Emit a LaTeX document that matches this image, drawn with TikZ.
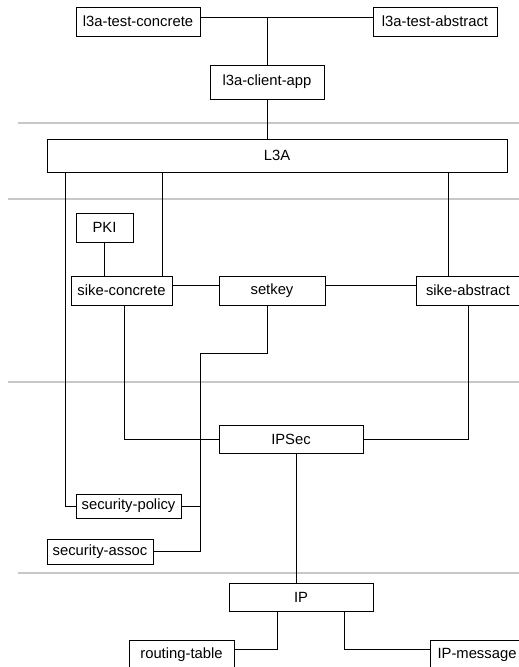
\documentclass[tikz,border=0pt]{standalone}
\usepackage{fontspec}
\setmainfont{Liberation Sans}
\usepackage{xcolor}
\usepackage{tikz}
\usetikzlibrary{calc}
\definecolor{lgray}{RGB}{200, 200, 200}

\begin{document}
\begin{tikzpicture}[x = 1pt, y = -1pt, font = \fontsize{14.8}{17}\selectfont,
			box/.style = {draw, line width = 0.8pt, inner sep = 0pt, minimum height = 29pt},
			layer/.style = {lgray, line width = 1.3pt}]
			\useasboundingbox (0,0) rectangle (519,667);
			\clip (0,0) rectangle (519,667);
			\draw[layer] (18,123) -- (519,123);
			\draw[layer] (8,199) -- (519,199);
			\draw[layer] (8,382) -- (519,382);
			\draw[layer] (18,573) -- (519,573);
			\node (testc) at (138,21.5) [box, minimum width = 124pt] {l3a-test-concrete};
			\node (testa) at (435,21.5) [box, minimum width = 124pt] {l3a-test-abstract};
			\node (client) at (267,82) [box, minimum width = 114pt, minimum height = 34pt] {l3a-client-app};
			\node (l3a) at (277,155.5) [box, minimum width = 460pt, minimum height = 33pt] {L3A};
			\node (pki) at (104.5,227.5) [box, minimum width = 57pt] {PKI};
			\node (sikec) at (121.5,290.5) [box, minimum width = 101pt] {sike-concrete};
			\node (setkey) at (272,290.5) [box, minimum width = 106pt] {setkey};
			\node (sikea) at (468,290.5) [box, minimum width = 104pt] {sike-abstract};
			\node (ipsec) at (291,439) [box, minimum width = 144pt, minimum height = 28pt] {IPSec};
			\node (secp) at (128.5,506) [box, minimum width = 105pt, minimum height = 24pt] {security-policy};
			\node (seca) at (100,551.5) [box, minimum width = 106pt, minimum height = 25pt] {security-assoc};
			\node (ip) at (301,597) [box, minimum width = 144pt, minimum height = 28pt] {IP};
			\node (rtable) at (181.5,654.5) [box, minimum width = 105pt] {routing-table};
			\node (ipmsg) at (477,654.5) [box, minimum width = 94pt] {IP-message};
			\coordinate (tj) at ($(client.north |- testc.east)+(0,-4)$);
			\coordinate (p1) at ($(l3a.south west)+(19,0)$);
			\coordinate (p2) at ($(sikec.north east)+(-10,0)$);
			\coordinate (p3) at ($(sikea.north west)+(33,0)$);
			\coordinate (p4) at ($(setkey.west)+(0,-5)$);
			\coordinate (k0) at ($(setkey.south)+(-5,0)$);
			\coordinate (k1) at ($(setkey.south)+(-5,48)$);
			\coordinate (bus) at ($(secp.east)+(19,0)$);
			\coordinate (i1) at ($(ipsec.south)+(5,0)$);
			\coordinate (r1) at ($(ip.south)+(-24,0)$);
			\coordinate (r2) at ($(ip.south)+(43,0)$);
			\draw (testc.east |- tj) edge (testa.west |- tj);
			\draw (client.north) edge (tj);
			\draw (client.south) edge (client.south |- l3a.north);
			\draw (secp.west) -| (p1);
			\draw (p2) edge (p2 |- l3a.south);
			\draw (p3) edge (p3 |- l3a.south);
			\draw (pki.south) edge (pki.south |- sikec.north);
			\draw (sikec.east |- p4) edge (p4);
			\draw (setkey.east |- p4) edge (sikea.west |- p4);
			\draw (k0) -- (k1) -| (bus |- seca.east) -- (seca.east);
			\draw (secp.east) edge (bus);
			\draw ($(sikec.south)+(2.5,0)$) |- (ipsec.west);
			\draw (sikea.south) |- (ipsec.east);
			\draw (i1) edge (i1 |- ip.north);
			\draw (r1) |- ($(rtable.east)+(0,-5)$);
			\draw (r2) |- ($(ipmsg.west)+(0,-5)$);
			\end{tikzpicture}
\end{document}
